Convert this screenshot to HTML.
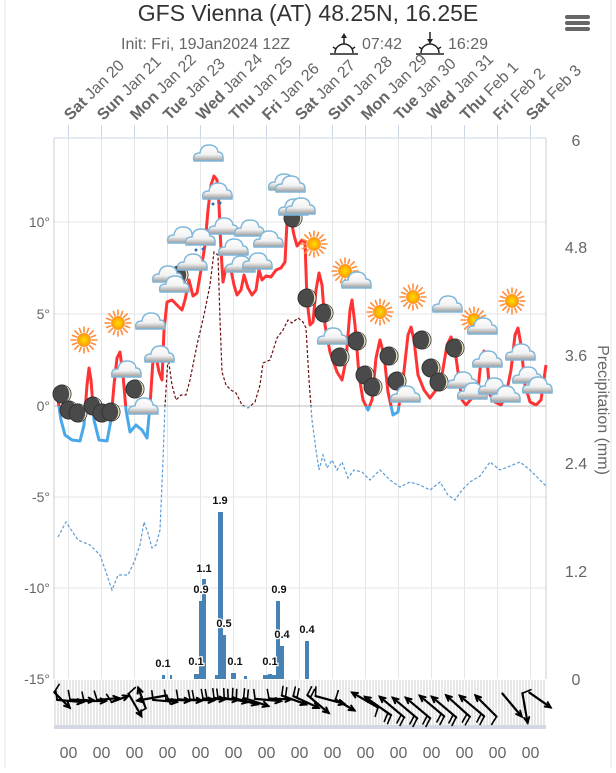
<!DOCTYPE html>
<html><head><meta charset="utf-8">
<style>
html,body{margin:0;padding:0;background:#fff;}
body{width:616px;height:768px;overflow:hidden;font-family:"Liberation Sans",sans-serif;}
svg text{font-family:"Liberation Sans",sans-serif;}
</style></head>
<body>
<svg id="s" width="616" height="768" viewBox="0 0 616 768" xmlns="http://www.w3.org/2000/svg">
<defs>
 <radialGradient id="sg" cx="50%" cy="50%" r="50%"><stop offset="0" stop-color="#ffe000"/><stop offset="1" stop-color="#ff9800"/></radialGradient>
 <linearGradient id="cg" x1="0" y1="0" x2="0" y2="1"><stop offset="0" stop-color="#fff"/><stop offset="0.6" stop-color="#f2f2f2"/><stop offset="1" stop-color="#9a9a9a"/></linearGradient>
 <g id="cloud"><path d="M-14,7 Q-16,-1 -8,-1 Q-7,-9 1,-9 Q9,-9 10,-2 Q16,-2 15,7 Z" fill="url(#cg)" stroke="#7fb6d9" stroke-width="1.4"/></g>
 <g id="rcloud"><use href="#cloud"/><circle cx="-4" cy="12" r="1.5" fill="#2a6fb0"/><circle cx="3" cy="11" r="1.5" fill="#2a6fb0"/></g>
 <g id="moon"><circle r="9" fill="#4a4a4a" stroke="#333" stroke-width="1"/><path d="M2,-8.7 A9,9 0 0 1 2,8.7 A7,9 0 0 0 2,-8.7Z" fill="#e8e3c0"/></g>
 <g id="sun"><g stroke="#ff8c3a" stroke-width="1.6" stroke-linecap="round">
  <line x1="0" y1="-8" x2="0" y2="-13"/><line x1="0" y1="8" x2="0" y2="13"/><line x1="-8" y1="0" x2="-13" y2="0"/><line x1="8" y1="0" x2="13" y2="0"/>
  <line x1="5.7" y1="5.7" x2="9.2" y2="9.2"/><line x1="-5.7" y1="5.7" x2="-9.2" y2="9.2"/><line x1="5.7" y1="-5.7" x2="9.2" y2="-9.2"/><line x1="-5.7" y1="-5.7" x2="-9.2" y2="-9.2"/>
  <line x1="3" y1="-7.4" x2="4.6" y2="-11.5"/><line x1="-3" y1="-7.4" x2="-4.6" y2="-11.5"/><line x1="3" y1="7.4" x2="4.6" y2="11.5"/><line x1="-3" y1="7.4" x2="-4.6" y2="11.5"/>
  <line x1="7.4" y1="3" x2="11.5" y2="4.6"/><line x1="7.4" y1="-3" x2="11.5" y2="-4.6"/><line x1="-7.4" y1="3" x2="-11.5" y2="4.6"/><line x1="-7.4" y1="-3" x2="-11.5" y2="-4.6"/></g>
  <circle r="6.5" fill="url(#sg)" stroke="#ff9a40" stroke-width="1"/></g>
 <pattern id="hatch" width="3" height="10" patternUnits="userSpaceOnUse"><line x1="1" y1="0" x2="1" y2="10" stroke="#cfcfcf" stroke-width="1"/></pattern>
 <clipPath id="above"><rect x="0" y="0" width="616" height="406"/></clipPath>
 <clipPath id="below"><rect x="0" y="406" width="616" height="300"/></clipPath>
</defs>

<line x1="5" y1="0" x2="5" y2="768" stroke="#e6e6e6"/>
<line x1="611" y1="0" x2="611" y2="768" stroke="#e6e6e6"/>

<text x="308" y="21" font-size="23" fill="#333" text-anchor="middle">GFS Vienna (AT) 48.25N, 16.25E</text>
<text x="121" y="49" font-size="16" fill="#666">Init: Fri, 19Jan2024 12Z</text>
<g stroke="#222" stroke-width="1.5" fill="none"><line x1="330" y1="54" x2="358" y2="54"/><path d="M335,53 A9,9 0 0 1 353,53"/><line x1="344" y1="44" x2="344" y2="36"/><line x1="333" y1="47" x2="336" y2="49"/><line x1="355" y1="47" x2="352" y2="49"/></g>
<path d="M341,38 L344,33 L347,38Z" fill="#222"/>
<text x="362" y="49" font-size="16" fill="#666">07:42</text>
<g stroke="#222" stroke-width="1.5" fill="none"><line x1="416" y1="54" x2="444" y2="54"/><path d="M421,53 A9,9 0 0 1 439,53"/><line x1="430" y1="32" x2="430" y2="40"/><line x1="419" y1="47" x2="422" y2="49"/><line x1="441" y1="47" x2="438" y2="49"/></g>
<path d="M427,39 L430,44 L433,39Z" fill="#222"/>
<text x="448" y="49" font-size="16" fill="#666">16:29</text>
<g fill="#666"><rect x="565" y="15" width="25" height="4" rx="2"/><rect x="565" y="21" width="25" height="4" rx="2"/><rect x="565" y="27" width="25" height="4" rx="2"/></g>

<g id="days"></g>
<g stroke="#e6e6e6" stroke-width="1">
 <line x1="54" y1="222" x2="546" y2="222"/><line x1="54" y1="314" x2="546" y2="314"/>
 <line x1="54" y1="497" x2="546" y2="497"/><line x1="54" y1="588" x2="546" y2="588"/>
</g>
<line x1="54" y1="138" x2="546" y2="138" stroke="#ccd6eb"/>
<line x1="54" y1="138" x2="54" y2="679" stroke="#ccc"/>
<line x1="546" y1="138" x2="546" y2="679" stroke="#ccc"/>
<line x1="54" y1="406" x2="546" y2="406" stroke="#bbb"/>

<g font-size="14" fill="#666" text-anchor="end">
 <text x="50" y="227">10°</text><text x="50" y="319">5°</text><text x="50" y="411">0°</text>
 <text x="50" y="502">-5°</text><text x="50" y="593">-10°</text><text x="50" y="684">-15°</text>
</g>
<g font-size="16" fill="#666" text-anchor="middle">
 <text x="576" y="146">6</text><text x="576" y="253">4.8</text><text x="576" y="361">3.6</text>
 <text x="576" y="469">2.4</text><text x="576" y="577">1.2</text><text x="576" y="685">0</text>
</g>
<text transform="translate(598,410) rotate(90)" font-size="16" fill="#666" text-anchor="middle">Precipitation (mm)</text>

<g fill="#4682b4">
 <rect x="162" y="675" width="3" height="4"/><rect x="170" y="675" width="2" height="4"/>
 <rect x="194" y="674" width="5" height="5"/><rect x="199" y="601" width="4" height="78"/><rect x="202" y="579" width="4" height="100"/>
 <rect x="215" y="675" width="3" height="4"/><rect x="218" y="512" width="5" height="167"/><rect x="222" y="635" width="4" height="44"/>
 <rect x="231" y="673" width="5" height="6"/><rect x="244" y="676" width="3" height="3"/>
 <rect x="263" y="675" width="5" height="4"/><rect x="268" y="674" width="4" height="5"/><rect x="272" y="675" width="4" height="4"/>
 <rect x="276" y="601" width="4" height="78"/><rect x="280" y="646" width="4" height="33"/><rect x="305" y="641" width="4" height="38"/>
</g>
<g font-size="11" font-weight="bold" fill="#111" text-anchor="middle" stroke="#fff" stroke-width="2.5" paint-order="stroke">
 <text x="163" y="667">0.1</text><text x="196" y="665">0.1</text><text x="201" y="593">0.9</text><text x="204" y="572">1.1</text>
 <text x="220" y="504">1.9</text><text x="224" y="627">0.5</text><text x="235" y="665">0.1</text><text x="270" y="665">0.1</text>
 <text x="279" y="593">0.9</text><text x="282" y="638">0.4</text><text x="307" y="633">0.4</text>
</g>

<polyline id="dp" fill="none" stroke-width="1.2" stroke-dasharray="3,2" points="
58,537 66,522 78,540 90,545 100,555 107,575 112,590 118,575 128,575 135,560 140,545 144,522 148,533 152,548 156,545 160,530 163,460 165,406 168,357 172,385 176,400 181,395 186,395 190,380 197,345 204,315 210,285 214,252 218,255 220,320 222,372 226,385 231,390 236,393 242,405 248,408 255,402 260,385 263,363 270,360 277,338 283,330 288,320 292,323 298,318 303,322 306,328 309,380 312,420 316,450 319,470 323,455 327,468 332,460 337,470 342,462 348,478 354,470 362,472 370,480 380,470 390,480 400,487 410,482 420,485 430,490 440,482 448,495 455,500 462,490 470,482 480,476 490,462 500,470 510,466 520,462 530,470 540,480 546,486"/>
<polyline id="tp" fill="none" stroke-width="3" stroke-linejoin="round" points="
58,400 61,420 65,435 72,440 80,441 84,425 87,385 89,368 91,380 94,420 99,440 107,441 111,420 114,385 117,358 120,352 123,375 126,410 130,432 136,425 142,430 147,438 150,405 153,360 156,356 159,372 162,380 164,330 167,302 172,300 177,305 182,310 185,300 189,280 193,296 197,293 201,270 205,245 208,210 211,185 214,176 217,180 219,205 221,250 223,282 226,268 230,265 234,285 237,295 241,290 244,275 248,288 252,295 256,290 259,270 262,280 266,276 271,277 276,270 281,268 285,262 287,222 290,215 294,235 297,246 302,240 305,242 307,300 310,325 313,322 316,290 319,273 322,285 325,325 330,352 337,372 342,380 346,360 350,310 352,300 355,325 359,375 363,400 368,410 372,400 376,358 380,340 384,355 388,392 393,415 398,412 403,380 408,335 411,327 414,340 418,375 424,390 430,398 436,390 442,375 447,345 451,337 455,350 458,372 462,400 466,405 472,398 478,390 481,360 484,351 487,360 490,395 495,402 501,405 506,395 511,370 515,335 518,328 521,345 525,385 530,402 536,405 541,400 546,365"/>

<g id="icons"></g>

<rect x="54" y="680" width="492" height="45" fill="url(#hatch)"/>
<rect x="54" y="725" width="492" height="4" fill="#d5d8e4"/>
<g id="wind" stroke="#000" stroke-width="2.2" fill="none" stroke-linecap="round"></g>
<g id="zz" font-size="16" fill="#666" text-anchor="middle"></g>
</svg>
<script>
var NS="http://www.w3.org/2000/svg",s=document.getElementById('s');
function el(t,a,p){var e=document.createElementNS(NS,t);for(var k in a)e.setAttribute(k,a[k]);(p||s).appendChild(e);return e;}
['dp','tp'].forEach(function(id){var o=document.getElementById(id);var c=o.cloneNode();o.setAttribute('stroke',id=='dp'?'#6b0f0f':'#ff3333');o.setAttribute('clip-path','url(#above)');c.removeAttribute('id');c.setAttribute('stroke',id=='dp'?'#5b9bd5':'#4aa8e8');c.setAttribute('clip-path','url(#below)');o.parentNode.insertBefore(c,o.nextSibling);});
var dn=['Sat','Sun','Mon','Tue','Wed','Thu','Fri','Sat','Sun','Mon','Tue','Wed','Thu','Fri','Sat'];
var dd=['Jan 20','Jan 21','Jan 22','Jan 23','Jan 24','Jan 25','Jan 26','Jan 27','Jan 28','Jan 29','Jan 30','Jan 31','Feb 1','Feb 2','Feb 3'];
var g=document.getElementById('days'),zz=document.getElementById('zz');
for(var i=0;i<15;i++){var x=68.5+33*i;
 el('line',{x1:x,y1:125,x2:x,y2:138,stroke:'#ccd6eb'},g);
 el('line',{x1:x,y1:138,x2:x,y2:679,stroke:'#e6e6e6'},g);
 var t=el('text',{transform:'translate('+(x+2)+',121) rotate(-45)','font-size':'16',fill:'#666'},g);
 var b=el('tspan',{'font-weight':'bold'},t);b.textContent=dn[i];var r=el('tspan',{},t);r.textContent=' '+dd[i];
 var z=el('text',{x:x,y:758},zz);z.textContent='00';}
var ic=document.getElementById('icons');
function put(id,pts){pts.forEach(function(p){el('use',{href:'#'+id,x:p[0],y:p[1]},ic);});}
put('sun',[[84,340],[118,323],[314,244],[345,271],[380,312],[413,297],[474,320],[512,301]]);
put('moon',[[62,394],[69,410],[78,413],[93,406],[102,413],[111,412],[135,389],[179,275],[293,218],[307,298],[324,313],[340,357],[357,341],[365,375],[373,387],[389,356],[397,381],[422,340],[431,368],[439,382],[455,348]]);
put('cloud',[[208,154],[182,236],[223,227],[249,229],[283,183],[293,208],[268,240],[233,248],[240,265],[257,262],[192,263],[167,275],[174,285],[150,322],[159,355],[126,370],[143,407],[290,185],[300,207],[332,337],[356,281],[447,305],[482,327],[487,360],[520,353],[405,395],[462,381],[472,392],[493,387],[505,395],[527,376],[537,386]]);
put('rcloud',[[217,192],[200,238]]);
var W=document.getElementById('wind');
function arrow(x,y,a,L,nb){var r=a*Math.PI/180,dx=Math.cos(r),dy=Math.sin(r);
 var tx=x+dx*L/2,ty=y+dy*L/2,bx=x-dx*L/2,by=y-dy*L/2;
 el('line',{x1:bx,y1:by,x2:tx,y2:ty},W);
 var h=6,w=0.45;el('path',{d:'M'+(tx-h*(dx*Math.cos(w)-dy*Math.sin(w)))+','+(ty-h*(dy*Math.cos(w)+dx*Math.sin(w)))+'L'+tx+','+ty+'L'+(tx-h*(dx*Math.cos(-w)-dy*Math.sin(-w)))+','+(ty-h*(dy*Math.cos(-w)+dx*Math.sin(-w))),'stroke-width':2},W);
 for(var k=0;k<nb;k++){var px=bx+dx*k*4,py=by+dy*k*4;el('line',{x1:px,y1:py,x2:px+dy*9-dx*2,y2:py-dx*9-dy*2,'stroke-width':1.6},W);}
}
var left=[[62,700,45,22,1],[70,701,5,26,1],[82,700,2,24,1],[95,701,0,22,1],[108,699,-5,22,1],[120,699,-20,18,1],[135,705,60,26,1],[142,698,-110,22,1],[152,698,170,30,1],[165,701,5,24,1],[178,700,3,24,1],[190,700,3,24,1],[202,700,2,24,2],[214,699,2,22,2],[226,699,5,24,2],[236,700,10,24,2],[245,701,15,26,2],[256,702,18,26,2],[268,700,5,26,1],[280,699,2,22,1],[294,700,20,26,2],[306,702,25,28,2],[318,704,40,28,2],[330,700,15,30,1],[345,705,30,22,1]];
left.forEach(function(a){arrow.apply(null,a);});
var right=[[365,700,-150,30,1],[378,706,-145,32,2],[392,707,-140,32,2],[405,708,-140,32,2],[418,708,-140,32,2],[432,706,-140,32,2],[444,707,-140,32,2],[458,706,-138,32,2],[472,706,-140,32,2],[486,706,-135,30,1],[512,705,50,30,0],[525,708,80,30,1],[540,700,35,26,0]];
right.forEach(function(a){arrow.apply(null,a);});
</script>
</body></html>
